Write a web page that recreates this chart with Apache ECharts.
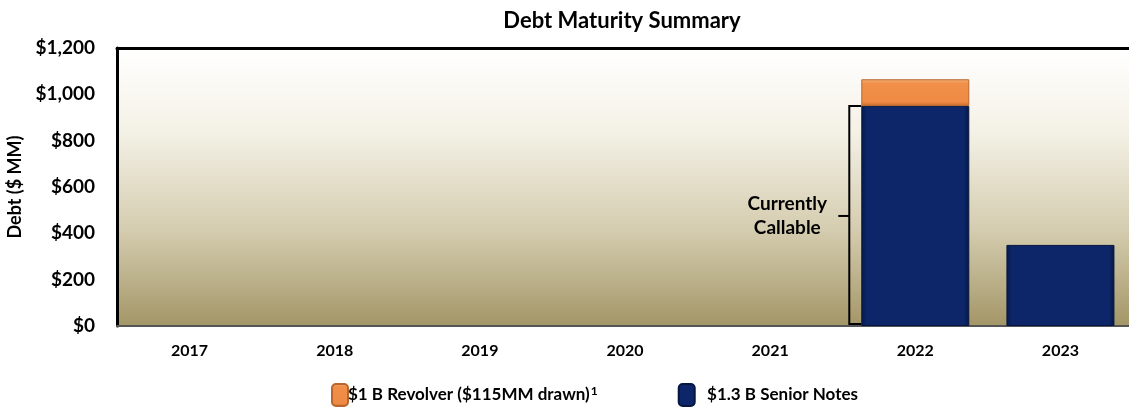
<!DOCTYPE html>
<html>
<head>
<meta charset="utf-8">
<script src="https://cdn.jsdelivr.net/npm/echarts@6/dist/echarts.min.js"></script>
<style>
  html, body { margin: 0; padding: 0; background: #ffffff; }
  #chart { width: 1129px; height: 412px; }
</style>
</head>
<body>
<div id="chart"></div>
<script>
// Maturity years and debt due in each ($ MM)
const years = ['2017', '2018', '2019', '2020', '2021', '2022', '2023'];
const seniorNotes = [0, 0, 0, 0, 0, 950, 350];
const revolver = [0, 0, 0, 0, 0, 115, 0];
const yTicks = { min: 0, max: 1200, interval: 200 };
const callableYear = '2022';
const callableAmount = 950;

// empty years get no bar at all (avoids hairline borders on zero-height bars)
const asBars = arr => arr.map(v => (v === 0 ? '-' : v));

const FONT = 'Lato, "Open Sans", sans-serif';
const chart = echarts.init(document.getElementById('chart'));

chart.setOption({
  animation: false,
  textStyle: { fontFamily: FONT, fontWeight: 'bold', color: '#000' },
  title: {
    text: 'Debt Maturity Summary',
    left: 617, top: 5, textAlign: 'center',
    textStyle: { fontFamily: FONT, fontSize: 22, fontWeight: 'bold', color: '#000' }
  },
  grid: {
    left: 117, top: 48, width: 1016, bottom: 86,
    outerBoundsMode: 'none',
    containLabel: false,
    show: true, borderWidth: 0,
    backgroundColor: {
      type: 'linear', x: 0, y: 0, x2: 0, y2: 1,
      colorStops: [
        { offset: 0, color: '#ffffff' },
        { offset: 0.3, color: '#f4f1e6' },
        { offset: 0.65, color: '#d5cdb0' },
        { offset: 1, color: '#a39667' }
      ]
    }
  },
  legend: {
    bottom: 0, left: 326, itemGap: 80,
    itemWidth: 16, itemHeight: 22,
    data: ['rev', 'notes'],
    formatter: function (name) {
      return name === 'rev' ? '$1 B Revolver ($115MM drawn){sup|1}' : '   $1.3 B Senior Notes';
    },
    textStyle: {
      fontFamily: FONT, fontSize: 17, fontWeight: 'bold', color: '#000', padding: [0, 0, 0, -5],
      rich: { sup: { fontFamily: FONT, fontSize: 12, fontWeight: 'bold', verticalAlign: 'top', padding: [0, 0, 8, 1] } }
    }
  },
  xAxis: [{
    type: 'category', data: years,
    axisLine: { lineStyle: { color: '#555', width: 2 } },
    axisTick: { show: false },
    axisLabel: { fontFamily: FONT, fontSize: 16, fontWeight: 'bold', color: '#000', margin: 17 }
  }, {
    type: 'category', data: years, position: 'top',
    axisLine: { lineStyle: { color: '#000', width: 3 } },
    axisTick: { show: false }, axisLabel: { show: false }
  }],
  yAxis: {
    type: 'value', min: yTicks.min, max: yTicks.max, interval: yTicks.interval,
    name: 'Debt ($ MM)', nameLocation: 'middle', nameGap: 89, nameRotate: 90,
    nameTextStyle: { fontFamily: FONT, fontSize: 18, fontWeight: 'bold', color: '#000' },
    axisLine: { show: true, lineStyle: { color: '#000', width: 3 } },
    axisTick: { show: false },
    splitLine: { show: false },
    axisLabel: {
      fontFamily: FONT, fontSize: 19, fontWeight: 'bold', color: '#000', margin: 22,
      formatter: v => '$' + v.toLocaleString('en-US')
    }
  },
  series: [{
    name: 'notes', type: 'bar', stack: 'debt', barWidth: 108,
    data: asBars(seniorNotes),
    itemStyle: {
      color: {
        type: 'linear', x: 0, y: 0, x2: 1, y2: 0,
        colorStops: [
          { offset: 0, color: '#08194a' }, { offset: 0.05, color: '#0c2669' },
          { offset: 0.95, color: '#0c2669' }, { offset: 1, color: '#061640' }
        ]
      },
      borderColor: '#061640', borderWidth: 1
    }
  }, {
    name: 'rev', type: 'bar', stack: 'debt', barWidth: 108,
    data: asBars(revolver),
    itemStyle: {
      color: {
        type: 'linear', x: 0, y: 0, x2: 0, y2: 1,
        colorStops: [
          { offset: 0, color: '#f8b47a' }, { offset: 0.15, color: '#f0904a' },
          { offset: 0.85, color: '#ee8a44' }, { offset: 1, color: '#c96d2d' }
        ]
      },
      borderColor: '#b8662d', borderWidth: 1
    }
  }, {
    // bracket marking the callable notes beside the 2022 bar
    name: 'callable', type: 'custom',
    data: [[callableYear, callableAmount]],
    encode: { x: 0, y: 1 },
    z: 5,
    renderItem: function (params, api) {
      const top = api.coord([api.value(0), api.value(1)]);
      const base = api.coord([api.value(0), 0]);
      const barLeft = top[0] - 54;
      const bx = barLeft - 12;
      const midY = (top[1] + base[1]) / 2;
      const ls = { stroke: '#000', lineWidth: 2, fill: null };
      return {
        type: 'group',
        children: [
          { type: 'polyline', shape: { points: [[barLeft, top[1]], [bx, top[1]], [bx, base[1] - 2], [barLeft, base[1] - 2]] }, style: ls },
          { type: 'line', shape: { x1: bx - 11, y1: midY, x2: bx, y2: midY }, style: ls },
          {
            type: 'text',
            style: {
              x: bx - 62, y: midY, text: 'Currently\nCallable',
              align: 'center', verticalAlign: 'middle', lineHeight: 24,
              font: 'bold 19px ' + FONT, fill: '#000'
            }
          }
        ]
      };
    }
  }]
});
</script>
</body>
</html>
